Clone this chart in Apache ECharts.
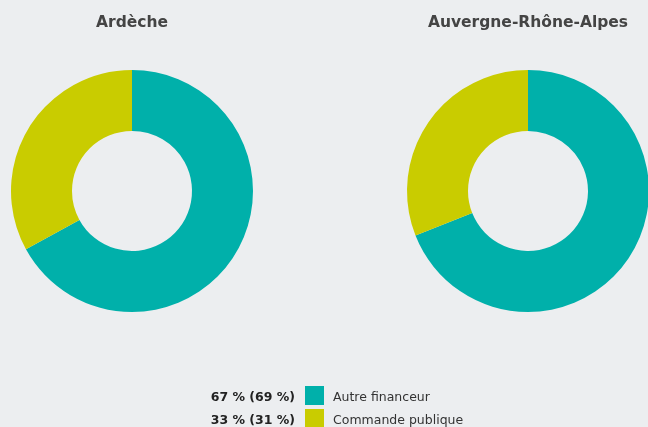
<!DOCTYPE html>
<html>
<head>
<meta charset="utf-8">
<script src="https://cdn.jsdelivr.net/npm/echarts@6/dist/echarts.min.js"></script>
<style>
  html, body { margin: 0; padding: 0; background: #eceef0; }
  #chart { width: 648px; height: 427px; }
</style>
</head>
<body>
<div id="chart"></div>
<script>
  // données
  const regions = ['Ardèche', 'Auvergne-Rhône-Alpes']
  const categories = ['Autre financeur', 'Commande publique']
  const ardecheValues = [67, 33]
  const auraValues = [69, 31]
  const colors = ['#00b0aa', '#c9cc00']

  let myChart = echarts.init(document.getElementById('chart'))

  const centersX = [132, 528]
  const allValues = [ardecheValues, auraValues]

  let series = regions.map((name, i) => ({
    name: name,
    type: 'pie',
    center: [centersX[i], 191],
    radius: [60, 121],
    startAngle: 90,
    clockwise: true,
    silent: true,
    label: { show: false },
    labelLine: { show: false },
    data: categories.map((c, j) => ({
      name: c,
      value: allValues[i][j],
      itemStyle: { color: colors[j] }
    }))
  }))

  // titres
  let graphics = regions.map((name, i) => ({
    type: 'text',
    x: centersX[i],
    y: 23,
    style: {
      text: name,
      fill: '#444',
      font: 'bold 15.5px "DejaVu Sans"',
      textAlign: 'center',
      textVerticalAlign: 'middle'
    }
  }))

  // pourcentages à gauche des carrés de légende
  categories.forEach((c, j) => {
    graphics.push({
      type: 'text',
      x: 295,
      y: 398 + j * 23,
      style: {
        text: ardecheValues[j] + ' % (' + auraValues[j] + ' %)',
        fill: '#222',
        font: 'bold 12.5px "DejaVu Sans"',
        textAlign: 'right',
        textVerticalAlign: 'middle'
      }
    })
  })

  // une légende par ligne (la deuxième est coupée en bas du cadre)
  let legends = categories.map((c, j) => ({
    left: 305,
    top: 386 + j * 23,
    padding: 0,
    itemWidth: 19,
    itemHeight: 19,
    icon: 'rect',
    selectedMode: false,
    data: [c],
    formatter: '{t|{name}}',
    textStyle: {
      rich: {
        t: { color: '#333', fontSize: 12.5, fontFamily: 'DejaVu Sans', padding: [4, 0, 0, 4] }
      }
    }
  }))

  let option = {
    backgroundColor: '#eceef0',
    legend: legends,
    graphic: graphics,
    series: series
  }
  myChart.setOption(option)
</script>
</body>
</html>
